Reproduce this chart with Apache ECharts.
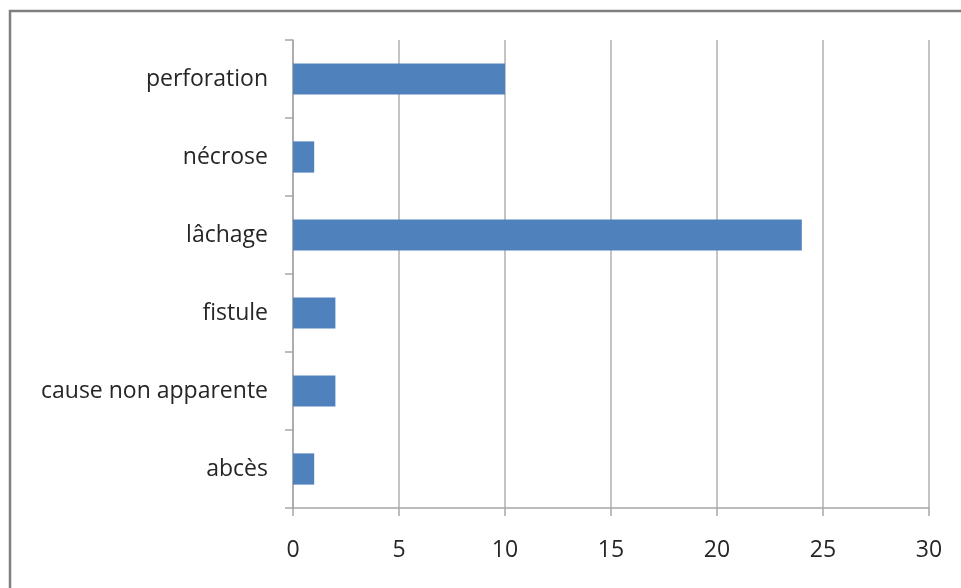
<!DOCTYPE html>
<html lang="fr">
<head>
<meta charset="UTF-8">
<title>bar chart</title>
<script src="https://cdn.jsdelivr.net/npm/echarts@6/dist/echarts.min.js"></script>
<style>
  html, body { margin: 0; padding: 0; background: #fff; }
  #chart { width: 961px; height: 588px; }
</style>
</head>
<body>
<div id="chart"></div>
<script>
  // categories from bottom to top
  var causes = ['abcès', 'cause non apparente', 'fistule', 'lâchage', 'nécrose', 'perforation'];
  var counts = [1, 2, 2, 24, 1, 10];
  var xMin = 0, xMax = 30, xStep = 5;

  var myChart = echarts.init(document.getElementById('chart'));

  var option = {
    animation: false,
    backgroundColor: '#fff',
    textStyle: { fontFamily: 'Open Sans' },
    graphic: [{
      // outer frame (only top and left are visible in the picture)
      type: 'rect',
      shape: { x: 10, y: 11, width: 980, height: 620 },
      style: { fill: 'none', stroke: '#808080', lineWidth: 2.5 },
      z: 0
    }],
    grid: { left: 293, right: 32, top: 40, bottom: 80 },
    xAxis: {
      type: 'value',
      min: xMin,
      max: xMax,
      interval: xStep,
      axisLine: { show: true, lineStyle: { color: '#a6a6a6', width: 1.5 } },
      axisTick: { show: true, length: 8, lineStyle: { color: '#a6a6a6', width: 1.5 } },
      axisLabel: { color: '#262626', fontSize: 23, margin: 31 },
      splitLine: { show: true, lineStyle: { color: '#b0b0b0', width: 1.5 } }
    },
    yAxis: {
      type: 'category',
      data: causes,
      axisLine: { show: true, lineStyle: { color: '#a6a6a6', width: 1.5 } },
      axisTick: { show: true, length: 8, lineStyle: { color: '#a6a6a6', width: 1.5 } },
      axisLabel: { color: '#262626', fontSize: 23, margin: 25 },
      splitLine: { show: false }
    },
    series: [{
      type: 'bar',
      data: counts,
      barCategoryGap: '60%',
      itemStyle: { color: '#4f81bd' }
    }]
  };
  myChart.setOption(option);
</script>
</body>
</html>
